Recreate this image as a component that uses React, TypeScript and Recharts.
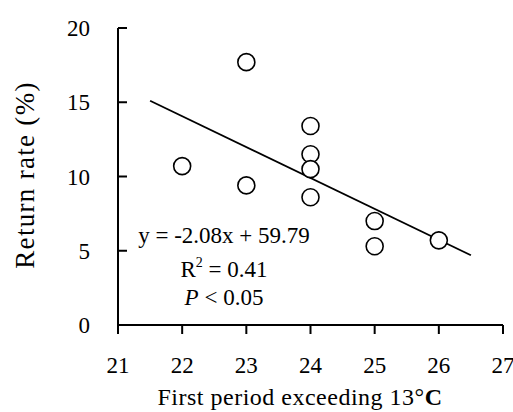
import React from "react";
import { ScatterChart, Scatter, XAxis, YAxis, Customized } from "recharts";

const xValues = [22, 23, 23, 24, 24, 24, 24, 25, 25, 26];
const yValues = [10.7, 17.7, 9.4, 13.4, 11.5, 10.5, 8.6, 7.0, 5.3, 5.7];
const fitX = [21.5, 26.5];
const fitY = [15.1, 4.7];
const xTicks = [21, 22, 23, 24, 25, 26, 27];
const yTicks = [0, 5, 10, 15, 20];

const points = xValues.map((x, i) => ({ x, y: yValues[i] }));
const fitLine = fitX.map((x, i) => ({ x, y: fitY[i] }));
// tick marks placed on the axes through the chart scales
const xTickMarks = xTicks.map((t) => ({ x: t, y: yTicks[0], label: t }));
const yTickMarks = yTicks.map((t) => ({ x: xTicks[0], y: t, label: t }));

const FONT = "'Liberation Serif', 'DejaVu Serif', serif";

const Circle = (p: any) => (
  <circle cx={p.cx} cy={p.cy} r={8.5} fill="#fff" stroke="#000" strokeWidth={1.6} />
);

const XTickMark = (p: any) => (
  <g>
    <line x1={p.cx} x2={p.cx} y1={p.cy} y2={p.cy + 9} stroke="#000" strokeWidth={2} />
    <text x={p.cx} y={p.cy + 48} textAnchor="middle" fontSize={23} fontFamily={FONT} style={{ fontFamily: FONT }} fill="#000">
      {p.payload.label}
    </text>
  </g>
);

const YTickMark = (p: any) => (
  <g>
    <line x1={p.cx} x2={p.cx + 9} y1={p.cy} y2={p.cy} stroke="#000" strokeWidth={2} />
    <text x={p.cx - 28} y={p.cy + 8} textAnchor="end" fontSize={23} fontFamily={FONT} style={{ fontFamily: FONT }} fill="#000">
      {p.payload.label}
    </text>
  </g>
);

const Annotations = () => (
  <g style={{ fontFamily: FONT }} fill="#000">
    <text x={25} y={175} transform="rotate(-90 25 175)" textAnchor="middle" dominantBaseline="central" fontSize={27} letterSpacing={1.3}>
      Return rate (%)
    </text>
    <text x={300} y={405} textAnchor="middle" fontSize={24} letterSpacing={0.5}>
      First period exceeding 13°<tspan fontWeight="bold">C</tspan>
    </text>
    <text x={224} y={243} textAnchor="middle" fontSize={23}>y = -2.08x + 59.79</text>
    <text x={224} y={277} textAnchor="middle" fontSize={23}>
      R<tspan dy={-10} fontSize={14}>2</tspan><tspan dy={10}> = 0.41</tspan>
    </text>
    <text x={224} y={305} textAnchor="middle" fontSize={23}>
      <tspan fontStyle="italic">P</tspan> &lt; 0.05
    </text>
  </g>
);

export default function App() {
  return (
    <div style={{ position: "absolute", left: 0, top: 0, background: "#fff", fontFamily: FONT }}>
      <ScatterChart width={513} height={412} margin={{ top: 28, right: 10, left: 0, bottom: 0 }}>
        <XAxis type="number" dataKey="x" domain={[21, 27]} ticks={xTicks} height={87} stroke="#000" strokeWidth={2} tick={false} tickLine={false} />
        <YAxis type="number" dataKey="y" domain={[0, 20]} ticks={yTicks} width={118} stroke="#000" strokeWidth={2} tick={false} tickLine={false} />
        <Scatter data={xTickMarks} shape={<XTickMark />} isAnimationActive={false} />
        <Scatter data={yTickMarks} shape={<YTickMark />} isAnimationActive={false} />
        <Scatter data={fitLine} line={{ stroke: "#000", strokeWidth: 1.8 }} shape={() => null} isAnimationActive={false} />
        <Scatter data={points} shape={<Circle />} isAnimationActive={false} />
        <Customized component={Annotations} />
      </ScatterChart>
    </div>
  );
}
